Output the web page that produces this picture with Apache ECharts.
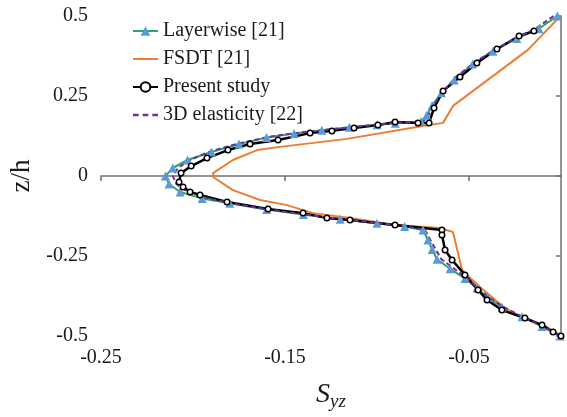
<!DOCTYPE html>
<html>
<head>
<meta charset="utf-8">
<script src="https://cdn.jsdelivr.net/npm/echarts@6/dist/echarts.min.js"></script>
<style>
html,body{margin:0;padding:0;background:#fff;}
#chart{width:567px;height:417px;}
</style>
</head>
<body>
<div id="chart"></div>
<script>
// ---- Data (x = S_yz, y = z/h) ----
var layerwiseX = [-0.002,-0.012,-0.024,-0.037,-0.048,-0.058,-0.065,-0.070,-0.073,-0.076,-0.090,-0.100,-0.115,-0.130,-0.145,-0.160,-0.175,-0.190,-0.203,-0.211,-0.215,-0.213,-0.207,-0.195,-0.180,-0.160,-0.140,-0.120,-0.100,-0.085,-0.075,-0.0723,-0.070,-0.0674,-0.0603,-0.0522,-0.0457,-0.0397,-0.032,-0.0212,-0.0103,-0.0005];
var layerwiseZ = [0.5,0.46,0.43,0.39,0.35,0.30,0.26,0.22,0.19,0.17,0.165,0.16,0.152,0.143,0.133,0.12,0.10,0.075,0.05,0.025,0.0,-0.025,-0.05,-0.07,-0.085,-0.105,-0.12,-0.135,-0.148,-0.158,-0.169,-0.2,-0.23,-0.26,-0.29,-0.32,-0.35,-0.38,-0.41,-0.44,-0.47,-0.5];

var fsdtX = [-0.002,-0.018,-0.0587,-0.0641,-0.0783,-0.1163,-0.1527,-0.1652,-0.1783,-0.1891,-0.1891,-0.1783,-0.1636,-0.1489,-0.1348,-0.1147,-0.0902,-0.0658,-0.0587,-0.056,-0.0538,-0.0511,-0.044,-0.0293,-0.0076,0];
var fsdtZ = [0.49,0.394,0.219,0.166,0.153,0.116,0.091,0.081,0.05,0.009,-0.003,-0.044,-0.075,-0.091,-0.116,-0.131,-0.153,-0.1625,-0.175,-0.24,-0.294,-0.309,-0.347,-0.419,-0.472,-0.5];

var presentX = [-0.0147,-0.0228,-0.0348,-0.0457,-0.0549,-0.0641,-0.069,-0.0717,-0.0777,-0.0902,-0.0995,-0.1125,-0.1245,-0.1364,-0.1538,-0.169,-0.181,-0.1924,-0.201,-0.2065,-0.2076,-0.2054,-0.2016,-0.1962,-0.1815,-0.1592,-0.1402,-0.1272,-0.1147,-0.0902,-0.0647,-0.0647,-0.063,-0.0592,-0.0522,-0.0451,-0.0402,-0.0321,-0.0196,-0.0103,-0.0043,0];
var presentZ = [0.453,0.4375,0.397,0.353,0.309,0.266,0.2125,0.166,0.166,0.169,0.159,0.15,0.141,0.134,0.1125,0.1,0.081,0.056,0.031,0.009,-0.019,-0.034,-0.05,-0.059,-0.081,-0.103,-0.116,-0.131,-0.1375,-0.153,-0.169,-0.184,-0.231,-0.2625,-0.309,-0.356,-0.3875,-0.419,-0.444,-0.466,-0.4875,-0.5];

var elastX = [-0.004,-0.014,-0.025,-0.036,-0.047,-0.057,-0.064,-0.069,-0.072,-0.075,-0.090,-0.100,-0.115,-0.130,-0.145,-0.160,-0.175,-0.190,-0.201,-0.208,-0.211,-0.209,-0.203,-0.192,-0.178,-0.160,-0.140,-0.120,-0.100,-0.085,-0.074,-0.071,-0.068,-0.065,-0.058,-0.051,-0.045,-0.039,-0.031,-0.021,-0.010,0];
var elastZ = [0.5,0.46,0.43,0.395,0.355,0.31,0.265,0.225,0.19,0.17,0.166,0.161,0.152,0.143,0.134,0.121,0.102,0.078,0.052,0.026,0.0,-0.025,-0.05,-0.07,-0.087,-0.104,-0.12,-0.134,-0.147,-0.157,-0.168,-0.2,-0.23,-0.26,-0.29,-0.32,-0.35,-0.38,-0.41,-0.44,-0.47,-0.5];

var seriesNames = ['Layerwise [21]','FSDT [21]','Present study','3D elasticity [22]'];

function pairs(xs, zs){ var out=[]; for(var i=0;i<xs.length;i++){ out.push([xs[i], zs[i]]); } return out; }

var FONT = '"Liberation Serif", "Times New Roman", serif';
var chart = echarts.init(document.getElementById('chart'), null, {renderer:'canvas'});
chart.setOption({
  animation:false,
  backgroundColor:'#ffffff',
  textStyle:{fontFamily:FONT},
  grid:{left:101, right:6, top:16, bottom:81, containLabel:false},
  legend:{
    orient:'vertical', left:127, top:16, itemWidth:25, itemHeight:12, itemGap:8,
    textStyle:{fontFamily:FONT, fontSize:20, color:'#1a1a1a'},
    data:[
      {name:seriesNames[0]},
      {name:seriesNames[1], icon:'path://M0,0L25,0L25,2L0,2Z'},
      {name:seriesNames[2]},
      {name:seriesNames[3], icon:'path://M0,0H5V2H0Z M8.5,0H13.5V2H8.5Z M17,0H22V2H17Z'}
    ]
  },
  xAxis:{
    type:'value', min:-0.25, max:0, interval:0.1,
    name:'{s|S}{sub|yz}', nameLocation:'middle', nameGap:42,
    nameTextStyle:{rich:{
      s:{fontFamily:FONT, fontStyle:'italic', fontSize:28, color:'#1a1a1a'},
      sub:{fontFamily:FONT, fontStyle:'italic', fontSize:19, color:'#1a1a1a', verticalAlign:'bottom', padding:[14,0,0,0]}
    }},
    axisLine:{lineStyle:{color:'#707070', width:1.5}},
    axisTick:{show:true, inside:false, length:5, lineStyle:{color:'#707070', width:1.5}},
    axisLabel:{fontFamily:FONT, fontSize:20, color:'#1a1a1a', margin:12, showMaxLabel:false},
    splitLine:{show:false}
  },
  yAxis:{
    type:'value', min:-0.5, max:0.5, interval:0.25,
    name:'z/h', nameLocation:'middle', nameGap:58,
    nameTextStyle:{fontFamily:FONT, fontSize:27, color:'#1a1a1a'},
    axisLine:{show:true, lineStyle:{color:'#707070', width:1.5}},
    axisTick:{show:true, inside:false, length:5, lineStyle:{color:'#707070', width:1.5}},
    axisLabel:{fontFamily:FONT, fontSize:20, color:'#1a1a1a', margin:13},
    splitLine:{show:false}
  },
  series:[
    {name:seriesNames[0], type:'line', data:pairs(layerwiseX, layerwiseZ),
     symbol:'triangle', symbolSize:9, showAllSymbol:true,
     lineStyle:{color:'#2aa66b', width:2}, itemStyle:{color:'#5b9bd5'}},
    {name:seriesNames[1], type:'line', data:pairs(fsdtX, fsdtZ),
     symbol:'none', lineStyle:{color:'#ed7d31', width:2}, itemStyle:{color:'#ed7d31'}},
    {name:seriesNames[2], type:'line', data:pairs(presentX, presentZ),
     symbol:'circle', symbolSize:5.5, showAllSymbol:true,
     lineStyle:{color:'#000000', width:2.5}, itemStyle:{color:'#ffffff', borderColor:'#000000', borderWidth:1.5}},
    {name:seriesNames[3], type:'line', data:pairs(elastX, elastZ),
     symbol:'none', lineStyle:{color:'#7030a0', width:2, type:[5,3]}, itemStyle:{color:'#7030a0'}}
  ]
});
</script>
</body>
</html>
